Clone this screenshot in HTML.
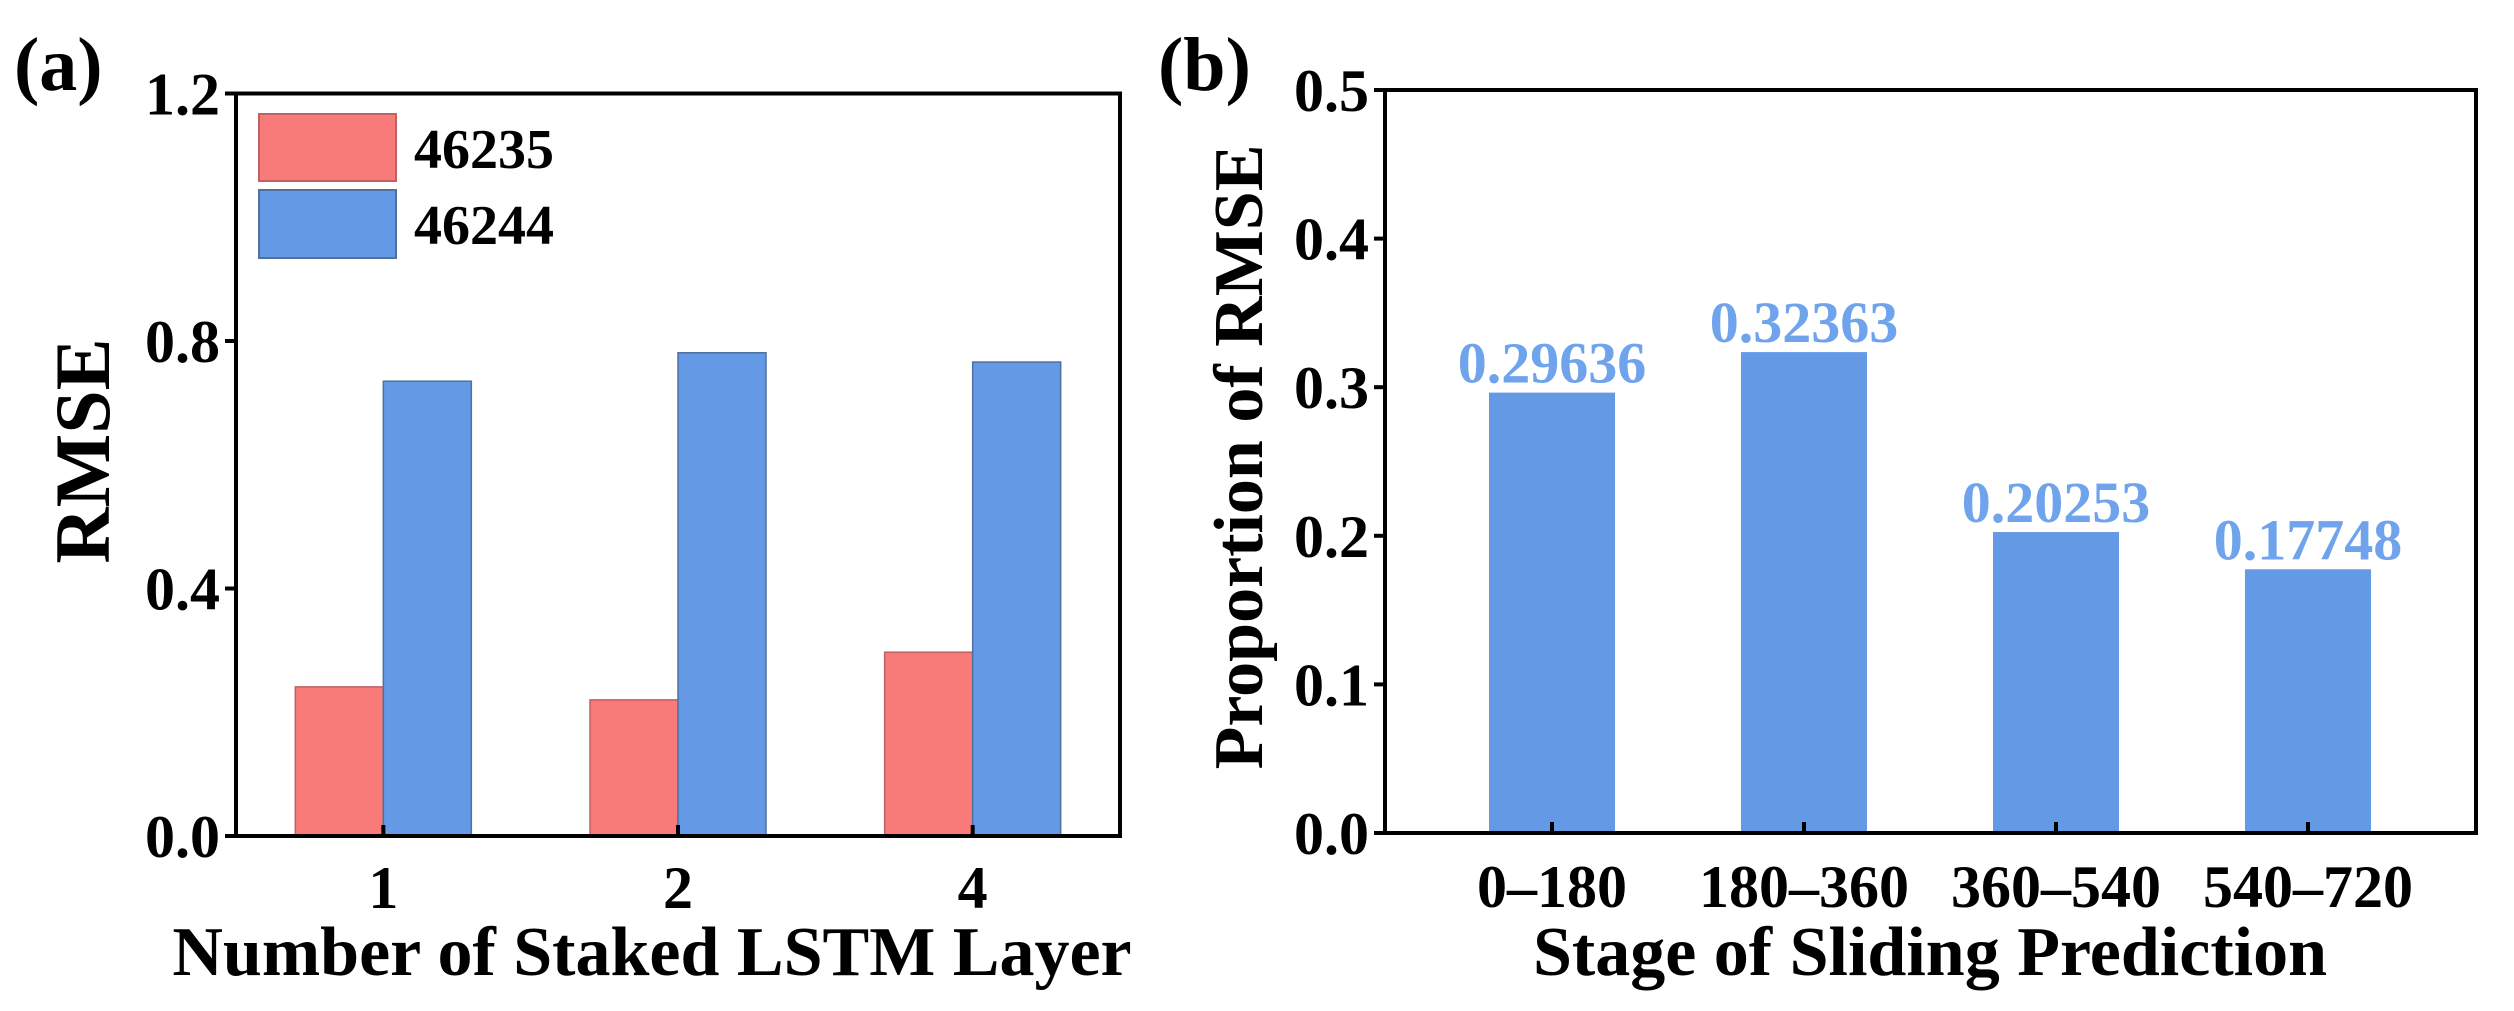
<!DOCTYPE html>
<html><head><meta charset="utf-8"><style>
html,body{margin:0;padding:0;background:#fff;}
svg{display:block;font-family:"Liberation Serif","Times New Roman",serif;font-weight:bold;}
svg text{font-family:"Liberation Serif","Times New Roman",serif;font-weight:bold;}
</style></head><body>
<svg id="fig" width="2514" height="1011" viewBox="0 0 2514 1011" xmlns="http://www.w3.org/2000/svg" font-family="Liberation Serif, serif" font-weight="bold"></svg>
<script>
const catsA = ["1","2","4"];
const series46235 = [0.241, 0.220, 0.297];
const series46244 = [0.735, 0.781, 0.766];
const ticksA = [0.0, 0.4, 0.8, 1.2];
const catsB = ["0\u2013180","180\u2013360","360\u2013540","540\u2013720"];
const valuesB = [0.29636, 0.32363, 0.20253, 0.17748];
const labelsB = ["0.29636","0.32363","0.20253","0.17748"];
const ticksB = [0.0, 0.1, 0.2, 0.3, 0.4, 0.5];

const NS = "http://www.w3.org/2000/svg";
const svg = document.getElementById('fig');
function mk(tag, attrs, parent, text){
  const e = document.createElementNS(NS, tag);
  for (const k in attrs) e.setAttribute(k, attrs[k]);
  if (tag === 'text') { e.setAttribute('font-family','Liberation Serif, serif'); e.setAttribute('font-weight','bold'); }
  if (text !== undefined) e.textContent = text;
  (parent||svg).appendChild(e);
  return e;
}
const RED="#F87B7A", BLUE="#6399E5", LBL="#6FA3EC";

// ---- Chart A ----
const A = {l:236, r:1120, t:93.5, b:836};
const ya = v => A.b - (v/1.2)*(A.b-A.t);
const xa = i => A.l + (i+0.5)/3*(A.r-A.l);
const bwA = 88;
const gA = mk('g', {});


series46235.forEach((v,i)=>{
  const r = mk('rect',{x:xa(i)-bwA, y:ya(v), width:bwA, height:A.b-ya(v), fill:RED, stroke:"#c06060", 'stroke-width':1.5}, gA);
  
  
});
series46244.forEach((v,i)=>{
  const r = mk('rect',{x:xa(i), y:ya(v), width:bwA, height:A.b-ya(v), fill:BLUE, stroke:"#5070a0", 'stroke-width':1.5}, gA);
  
  
});
mk('rect',{x:A.l, y:A.t, width:A.r-A.l, height:A.b-A.t, fill:'none', stroke:'#000','stroke-width':4}, gA);
ticksA.forEach(t=>{
  mk('line',{x1:A.l-11,x2:A.l,y1:ya(t),y2:ya(t),stroke:'#000','stroke-width':4},gA);
  const tx = mk('text',{x:A.l-16,y:ya(t)+21,'text-anchor':'end','font-size':60},gA,t.toFixed(1));
  
  
});
catsA.forEach((c,i)=>{
  mk('line',{x1:xa(i),x2:xa(i),y1:A.b,y2:A.b-11,stroke:'#000','stroke-width':4},gA);
  const tx = mk('text',{x:xa(i),y:908,'text-anchor':'middle','font-size':60},gA,c);
  
  
});
// legend
const lg = mk('g',{},gA);


mk('rect',{x:259,y:114,width:137,height:67,fill:RED,stroke:'#c06060','stroke-width':2},lg);
mk('rect',{x:259,y:190,width:137,height:68,fill:BLUE,stroke:'#5070a0','stroke-width':2},lg);
mk('text',{x:414,y:168,'font-size':56},lg,'46235');
mk('text',{x:414,y:244,'font-size':56},lg,'46244');
let t = mk('text',{x:109,y:451,'text-anchor':'middle','font-size':78,transform:'rotate(-90 109 451)'},gA,'RMSE');


t = mk('text',{x:652,y:975,'text-anchor':'middle','font-size':70},gA,'Number of Staked LSTM Layer');


t = mk('text',{x:14,y:90,'font-size':76},gA,'(a)');



// ---- Chart B ----
const B = {l:1385, r:2476, t:90, b:833};
const yb = v => B.b - (v/0.5)*(B.b-B.t);
const xb = i => 1552 + i*252;
const bwB = 126;
const gB = mk('g',{});


valuesB.forEach((v,i)=>{
  const r = mk('rect',{x:xb(i)-bwB/2, y:yb(v), width:bwB, height:B.b-yb(v), fill:BLUE}, gB);
  
  
  const tx = mk('text',{x:xb(i), y:yb(v)-10, 'text-anchor':'middle','font-size':58, fill:LBL}, gB, labelsB[i]);
  
  
});
mk('rect',{x:B.l, y:B.t, width:B.r-B.l, height:B.b-B.t, fill:'none', stroke:'#000','stroke-width':4}, gB);
ticksB.forEach(tk=>{
  mk('line',{x1:B.l-11,x2:B.l,y1:yb(tk),y2:yb(tk),stroke:'#000','stroke-width':4},gB);
  const tx = mk('text',{x:B.l-16,y:yb(tk)+21,'text-anchor':'end','font-size':60},gB,tk.toFixed(1));
  
  
});
catsB.forEach((c,i)=>{
  mk('line',{x1:xb(i),x2:xb(i),y1:B.b,y2:B.b-11,stroke:'#000','stroke-width':4},gB);
  const tx = mk('text',{x:xb(i),y:907,'text-anchor':'middle','font-size':60},gB,c);
  
  
});
t = mk('text',{x:1262,y:457,'text-anchor':'middle','font-size':70,transform:'rotate(-90 1262 457)'},gB,'Proportion of RMSE');


t = mk('text',{x:1930,y:975,'text-anchor':'middle','font-size':70},gB,'Stage of Sliding Prediction');


t = mk('text',{x:1158,y:90,'font-size':76},gB,'(b)');


</script>
</body></html>
